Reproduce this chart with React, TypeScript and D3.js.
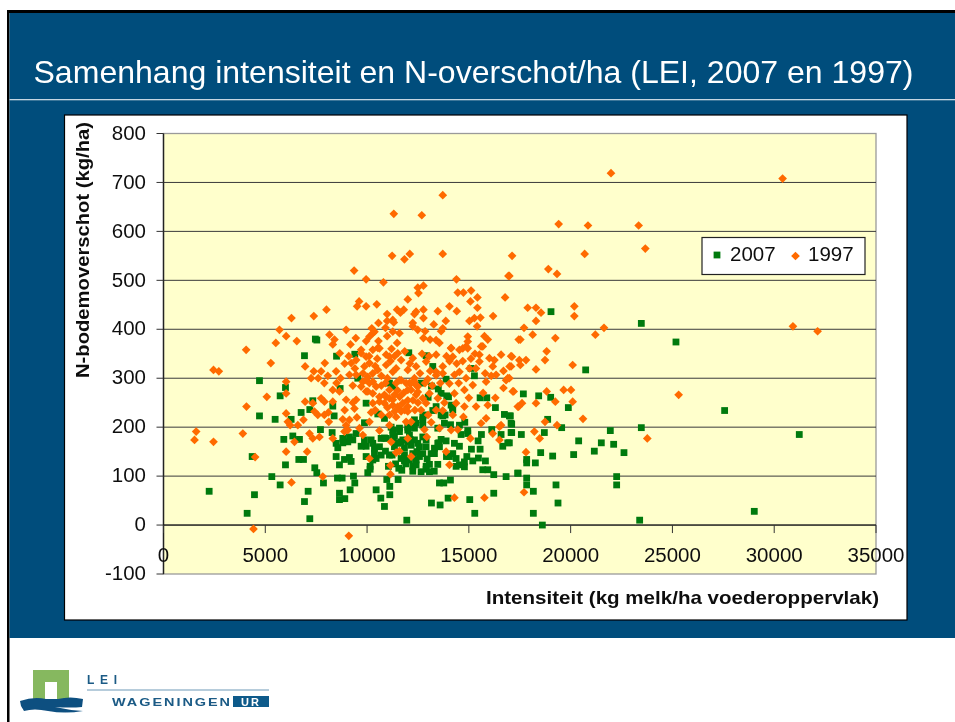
import React from "react";
import * as d3 from "d3";

const titleText = "Samenhang intensiteit en N-overschot/ha (LEI, 2007 en 1997)";
const xTicks = [0, 5000, 10000, 15000, 20000, 25000, 30000, 35000];
const yTicks = [-100, 0, 100, 200, 300, 400, 500, 600, 700, 800];
const series2007: number[][] = [
[19035,436],[23472,412],[25174,374],[20738,317],[27564,234],[17677,268],[18430,264],[19019,261],[19887,240],[18872,216],[17038,223],[17104,206],[19559,199],[23472,199],[21949,193],[31231,185],[17104,189],[17578,185],[18708,189],[16989,168],[20394,172],[21507,168],[22113,165],[21163,151],[22620,148],[20148,144],[18528,148],[19117,141],[17840,134],[17840,127],[18266,127],[17415,106],[17840,96],[22260,99],[22260,82],[17840,82],[19281,82],[18168,69],[19379,45],[18168,24],[29021,28],[23390,10],[18610,0],
[2243,69],[4715,295],[5992,281],[5730,264],[4715,223],[5484,216],[4355,140],[5992,123],[5321,99],[5730,82],[4469,62],[4109,24],[6925,346],[7531,378],[7187,13],[6925,48],[7105,69],[7858,86],[7432,117],[7531,107],[6647,134],[6876,134],[5910,175],[6352,182],[6679,175],[6270,216],[6761,230],[7187,236],[7334,254],[8316,243],[8382,223],[7711,195],[8284,189],[8480,167],[8562,158],[8808,168],[9053,170],[9299,174],[9462,187],[8480,140],[8644,123],[8889,134],[9135,138],[9217,130],[8546,96],[8775,96],[9331,100],[9397,86],[9168,72],[8644,65],[8644,52],[8906,54],[10445,72],[10674,55],[10854,38],[11116,62],[11116,79],[10968,93],[11525,93],[11951,10],[13162,45],[13588,41],[13981,55],[13555,86],[13768,86],[14095,92],[15044,52],[15290,24],[16223,65],[16829,99],[17402,106],[16223,103],[15929,113],[15683,113],[15814,131],[15470,137],[15192,131],[15552,155],[15126,155],[14537,161],[14291,167],[13882,172],[13637,175],[13522,168],[14782,129],[14782,119],[14373,120],[15454,172],[14619,185],[14946,193],[15617,185],[16125,195],[16583,185],[17074,189],[16665,161],[16911,168],[16747,226],[16993,223],[17074,208],[16305,240],[15552,260],[15880,260],[15274,305],[15110,320],[12900,346],[12049,352],[13227,324],[9397,349],[13162,284],[12654,290],[11099,290],[11263,283],[9544,300],[8677,279],[13882,298],[13719,223],[13800,208],[13473,198],[13391,242],[13227,234],[12818,225],[12736,215],[12327,215],[12327,198],[12736,204],[9872,209],[9953,249],[10527,227],[10854,218],[9872,174],[10199,174],[9953,161],[9708,161],[10281,167],[10690,177],[10854,178],[10903,151],[10363,146],[10445,136],[10281,133],[10150,120],[10150,114],[10035,107],[11558,116],[11705,112],[12245,120],[12245,110],[12654,109],[12900,114],[13064,124],[13473,124],[12409,133],[12736,146],[13146,146],[13309,157],[12573,140],[12245,146],[11836,131],[12082,133],[11263,194],[11263,184],[11509,167],[11345,160],[12000,194],[12082,184],[11673,170],[12000,170],[11836,157],[12163,163],[10936,177],[11263,174],[11591,198],[12327,174],[12736,180],[12900,174],[12573,160],[13473,167],[11099,143],[13000,261],[13500,278],[14000,262],[14200,240],[14100,205],[14800,210],[8500,345],[7460,380],[12450,150],[11900,125],[11400,125],[13900,140],[14900,140],[13300,110],[11050,120],[12950,135],
[13637,269],[13915,264],[14128,245],[14210,235],[13833,225],[12736,221],[12409,208],[12000,200],[11591,191],[11181,200],[11345,181],[11754,174],[12115,175],[12491,167],[12900,160],[13309,146],[11836,143],[12409,123],[12900,120],[13064,109],[11672,136],[11230,143],[10608,160],[10363,157],[10690,143],[9953,140],[9135,180],[8808,177],[13637,225],[14537,204],[14946,187],[13555,160],[14210,146],[14373,136],[14537,123],[14046,140]
];
const series1997: number[][] = [
[13718,674],[11312,636],[12687,633],[11230,550],[11836,543],[12098,554],[13718,554],[17123,550],[9364,520],[9953,502],[10804,496],[14390,502],[16943,509],[12491,485],[12769,489],[12524,474],[14455,475],[14733,475],[15110,479],[15421,465],[15077,457],[16780,465],[12000,461],[9609,457],[9512,447],[9953,447],[10477,451],[14046,447],[15421,444],[8005,440],[11476,440],[11803,440],[11639,434],[12769,440],[12409,436],[12327,431],[13473,437],[14406,437],[10985,431],[6286,423],[7383,427],[12769,423],[15568,424],[16191,427],[15273,423],[15028,417],[10559,413],[10985,417],[11312,414],[11263,419],[12245,413],[13276,410],[13866,417],[15405,406],[5697,399],[8971,399],[10232,402],[10903,403],[12245,406],[12491,399],[13718,402],[13637,396],[12851,396],[8153,389],[10280,392],[10117,385],[9953,376],[10363,395],[11263,395],[11590,392],[6025,386],[8398,379],[9446,382],[10985,386],[12769,382],[13096,379],[13391,378],[15765,386],[15929,379],[5517,372],[6548,376],[8316,369],[9184,369],[10559,376],[11476,372],[13555,372],[14946,385],[14946,375],[14864,365],[17450,379],[10527,362],[14128,362],[14700,361],[15602,365],[4060,358],[9708,358],
[21982,719],[30412,708],[19412,615],[20852,612],[23340,612],[23668,565],[20689,554],[18904,523],[19330,513],[16989,509],[20181,447],[20181,427],[17889,444],[18298,444],[18544,434],[18298,417],[17709,403],[18135,389],[17529,379],[19248,382],[21213,389],[21638,403],[30920,406],[32131,396],[18822,355],[17120,344],[17807,337],[17529,327],[18741,337],[20099,327],[18298,318],
[17071,324],[16989,300],[25305,266],[17202,273],[18822,273],[19657,276],[20017,276],[19248,252],[20099,252],[18298,249],[17611,249],[17447,242],[20607,217],[18741,211],[19330,204],[18217,191],[18479,177],[23766,177],[17807,149],[17709,67],
[2456,317],[2718,314],[5272,331],[6025,293],[6025,269],[5075,262],[4076,242],[6958,324],[7924,331],[8660,351],[8480,314],[7743,314],[7383,314],[7252,300],[8071,305],[9135,307],[9463,307],[9217,331],[9463,337],[9708,351],[9953,344],[10117,331],[9871,324],[10281,358],[10608,361],[10936,348],[11099,344],[10936,327],[11508,351],[11672,337],[11427,320],[11263,313],[10527,317],[10281,310],[10035,303],[9790,293],[12245,341],[12409,324],[12000,317],[11672,296],[12900,334],[13391,348],[13391,313],[13718,324],[13718,310],[14128,361],[14537,358],[14946,361],[14210,344],[15519,348],[15519,334],[15683,365],[16010,341],[16583,348],[17074,345],[16256,337],[17000,324],[16174,324],[17480,337],[15028,320],[14537,313],[14291,307],[14046,289],[14864,300],[15192,286],[15847,293],[16338,307],[16911,300],[17156,273],[14782,276],[14291,269],[14373,249],[14782,242],[15355,242],[15929,245],[17402,242],[14733,221],[15601,208],[15847,218],[16501,201],[12082,290],[12327,300],[12409,286],[12163,276],[12491,272],[12736,259],[12900,249],[13064,269],[13473,259],[12982,298],[13391,306],[13391,235],[13718,234],[14210,225],[11590,296],[11918,290],[11427,290],[11099,276],[11345,266],[10936,262],[10608,252],[10281,249],[10854,249],[11263,245],[10281,269],[10445,283],[10035,273],[9463,256],[9380,238],[8971,256],[8644,273],[8316,276],[8316,252],[7907,252],[7743,259],[7416,232],[7579,225],[7334,249],[6958,252],[6025,228],[6876,215],[6598,204],[6221,204],[6107,211],[7170,187],[7334,177],[7661,180],[6434,170],[6025,150],[7056,150],[8316,177],[8120,211],[8807,216],[9135,215],[8971,204],[8889,191],[9053,194],[9626,198],[9790,184],[10117,211],[10608,193],[11099,204],[11427,221],[11590,238],[12000,232],[11918,211],[12163,211],[11181,170],[12000,177],[12818,195],[12933,180],[13555,198],[14128,194],[14455,195],[15077,177],[16174,187],[16501,174],[16583,204],[11590,151],[11427,148],[12163,140],[13882,150],[14046,123],[10117,136],[11148,122],[11148,104],[7825,99],[6286,87],[4502,139],[3897,187],[1605,191],[1523,174],[2456,170],[4420,-8],[9102,-22],[14291,56],[15765,56],[16829,296],[10608,262],[10854,266],[11099,259],[11263,256],[11508,242],[11754,249],[12000,276],[12163,290],[12327,293],[12491,283],[12409,266],[12000,242],[11672,232],[11345,232],[11099,225],[9953,296],[10117,290],[9708,283],[9953,273],[10281,293],[11000,300],[11800,270],[12000,255],[12250,255],[11600,262],[10700,285],[9300,285],[8700,300],[10500,340],[11200,360],[12700,350],[13050,345],[13100,315],[14050,335],[15300,350],[15800,310],
[9100,345],[9400,320],[9800,310],[10100,345],[10400,325],[10700,305],[10900,290],[11150,335],[11350,345],[11850,355],[12100,330],[12600,310],[12850,290],[13200,285],[13600,290],[13900,345],[14400,330],[14700,335],[15100,340],[15350,320],[16100,305],[16700,315],[8900,330],[8500,290],[7900,290],[7600,300],[10400,235],[10700,225],[11000,240],[11500,275],[11850,235],[12350,235],[12500,250],[12650,235],[13000,225],[10200,230],[9500,220],[9300,250],[8900,235],[8100,230],[7900,225],[13150,210],[13800,250],[14500,290],[15000,260],[16300,260],[16700,280],[15700,270]
];

const W = 955, H = 722;
const x = d3.scaleLinear().domain([0, 35000]).range([163.5, 876]);
const y = d3.scaleLinear().domain([-100, 800]).range([574, 133.5]);
const sans = "'Liberation Sans', Arial, sans-serif";
const diamond = d3.symbol().type(d3.symbolSquare).size(38)() as string;

export default function App() {
  return (
    <svg width={W} height={H} viewBox={`0 0 ${W} ${H}`}
      style={{ position: "absolute", left: 0, top: 0, display: "block" }} fontFamily={sans}>
      <defs>
        <filter id="soft" x="-2%" y="-2%" width="104%" height="104%">
          <feGaussianBlur stdDeviation="0.4" />
        </filter>
      </defs>
      <rect width={W} height={H} fill="#fff" />
      <g filter="url(#soft)">
        <rect x={7} y={10} width={948} height={3} fill="#000" />
        <rect x={7} y={10} width={2.5} height={712} fill="#000" />
        <rect x={9.5} y={13} width={946} height={625} fill="#004e7c" />
        <text x={33.5} y={82.5} fontSize={32} fill="#fff" textLength={880} lengthAdjust="spacingAndGlyphs">{titleText}</text>
        <rect x={9.5} y={99} width={946} height={1.3} fill="#c5d6e2" />

        <rect x={64.5} y={115} width={842.5} height={505} fill="#fff" stroke="#000" strokeWidth={1.2} />
        <rect x={x(0)} y={y(800)} width={x(35000) - x(0)} height={y(-100) - y(800)}
          fill="#ffffcc" stroke="#9a9a9a" strokeWidth={1.3} />
        {yTicks.filter(t => t > -100 && t < 800).map(t => (
          <line key={t} x1={x(0)} x2={x(35000)} y1={y(t)} y2={y(t)} stroke="#3a3a3a" strokeWidth={1} />
        ))}
        <line x1={x(0)} x2={x(0)} y1={y(800)} y2={y(-100)} stroke="#222" strokeWidth={1.4} />
        {yTicks.map(t => (
          <g key={t}>
            <line x1={x(0) - 7} x2={x(0)} y1={y(t)} y2={y(t)} stroke="#333" strokeWidth={1} />
            <text x={146} y={y(t) - 1} dy="0.35em" textAnchor="end" fontSize={20.5} fill="#111">{t}</text>
          </g>
        ))}
        <line x1={x(0)} x2={x(35000)} y1={y(0)} y2={y(0)} stroke="#111" strokeWidth={1} />
        {xTicks.map(t => (
          <g key={t}>
            <line x1={x(t)} x2={x(t)} y1={y(0)} y2={y(0) + 8} stroke="#333" strokeWidth={1} />
            <text x={x(t)} y={555} dy="0.35em" textAnchor="middle" fontSize={20.5} fill="#111">{t}</text>
          </g>
        ))}
        {series2007.map((d, i) => (
          <rect key={i} x={x(d[0]) - 3.4} y={y(d[1]) - 3.4} width={6.8} height={6.8} fill="#007a10" />
        ))}
        {series1997.map((d, i) => (
          <path key={i} d={diamond} transform={`translate(${x(d[0])},${y(d[1])}) rotate(45)`} fill="#ff6a00" />
        ))}
        <text x={682.5} y={598} dy="0.35em" textAnchor="middle" fontSize={18.5} fontWeight="bold" fill="#111"
          textLength={393} lengthAdjust="spacingAndGlyphs">
          Intensiteit (kg melk/ha voederoppervlak)
        </text>
        <text transform="translate(83,250) rotate(-90)" dy="0.35em" textAnchor="middle" fontSize={18.5} fontWeight="bold" fill="#111"
          textLength={256} lengthAdjust="spacingAndGlyphs">
          N-bodemoverschot (kg/ha)
        </text>

        <rect x={702} y={237.5} width={163} height={37} fill="#fff" stroke="#222" strokeWidth={1.2} />
        <rect x={713.6} y={251.6} width={6.8} height={6.8} fill="#007a10" />
        <text x={730} y={254} dy="0.35em" fontSize={20.5} fill="#111">2007</text>
        <path d={diamond} transform="translate(795.5,256) rotate(45)" fill="#ff6a00" />
        <text x={808} y={254} dy="0.35em" fontSize={20.5} fill="#111">1997</text>

        <g>
          <rect x={33} y={670} width={36} height={33} fill="#86b85e" />
          <rect x={45} y={682} width={12} height={21} fill="#fff" />
          <path d="M20,701 Q34,696 46,699 L58,699 Q70,696 83,699 L82,707 Q70,708 55,707 Q68,710 83,711 Q65,714 48,711 Q34,708 24,711 L21,706 Z" fill="#0f4f80" />
          <text x={87} y={684} fontSize={12} fontWeight="bold" fill="#1a5a85" textLength={30} lengthAdjust="spacing">LEI</text>
          <rect x={87} y={689.5} width={182} height={1} fill="#6f9ab8" />
          <text x={112} y={706} fontSize={11} fontWeight="bold" fill="#1a5a85" letterSpacing={1.5} textLength={120} lengthAdjust="spacingAndGlyphs">WAGENINGEN</text>
          <rect x={233} y={696} width={36} height={11} fill="#0f5a8a" />
          <text x={251} y={705.5} textAnchor="middle" fontSize={11} fontWeight="bold" fill="#fff" letterSpacing={2}>UR</text>
        </g>
      </g>
    </svg>
  );
}
